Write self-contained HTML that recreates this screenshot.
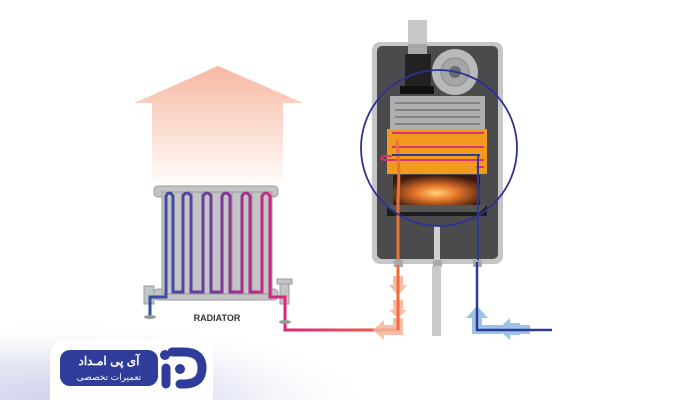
<!DOCTYPE html>
<html><head><meta charset="utf-8"><style>
html,body{margin:0;padding:0;background:#fff;}
svg{display:block;}
</style></head><body>
<svg width="700" height="400" viewBox="0 0 700 400" xmlns="http://www.w3.org/2000/svg">
<defs>
<linearGradient id="heat" x1="0" y1="0" x2="0" y2="1">
<stop offset="0" stop-color="#f7b7a3"/><stop offset="0.5" stop-color="#fbdcd0"/><stop offset="1" stop-color="#ffffff"/>
</linearGradient>
<linearGradient id="pipe" gradientUnits="userSpaceOnUse" x1="150" y1="0" x2="285" y2="0">
<stop offset="0" stop-color="#2d4fa6"/><stop offset="0.5" stop-color="#7a3a9a"/><stop offset="1" stop-color="#e0257a"/>
</linearGradient>
<linearGradient id="pipe2" gradientUnits="userSpaceOnUse" x1="285" y1="0" x2="400" y2="0">
<stop offset="0" stop-color="#e0257a"/><stop offset="1" stop-color="#f06a3a"/>
</linearGradient>
<radialGradient id="bot" gradientUnits="userSpaceOnUse" cx="60" cy="400" r="320" gradientTransform="translate(60 400) scale(1 0.25) translate(-60 -400)">
<stop offset="0" stop-color="#cfd3ec"/><stop offset="0.5" stop-color="#e6e8f5"/><stop offset="1" stop-color="#ffffff" stop-opacity="0"/>
</radialGradient>
<radialGradient id="fire" cx="0.5" cy="0.6" r="0.6">
<stop offset="0" stop-color="#ffd27a"/><stop offset="0.4" stop-color="#e8762a"/><stop offset="1" stop-color="#3a1a10"/>
</radialGradient>
</defs>
<rect width="700" height="400" fill="#fff"/>
<rect x="0" y="300" width="700" height="100" fill="url(#bot)"/>
<polygon points="218,66 303,103 283,103 283,188 152,188 152,103 134,103" fill="url(#heat)"/>
<g fill="#c3c4c6" stroke="#9a9b9d" stroke-width="1">
<rect x="154" y="186" width="124" height="11" rx="4"/>
<rect x="154" y="289" width="124" height="11" rx="4"/>
<rect x="162" y="192" width="10" height="102"/><rect x="172" y="192" width="10" height="102"/>
<rect x="182" y="192" width="10" height="102"/><rect x="192" y="192" width="10" height="102"/>
<rect x="202" y="192" width="10" height="102"/><rect x="212" y="192" width="10" height="102"/>
<rect x="222" y="192" width="10" height="102"/><rect x="232" y="192" width="10" height="102"/>
<rect x="242" y="192" width="10" height="102"/><rect x="252" y="192" width="10" height="102"/>
<rect x="262" y="192" width="10" height="102"/>
<rect x="144" y="286" width="10" height="18"/><rect x="280" y="284" width="9" height="20"/>
<rect x="277" y="279" width="15" height="5"/>
</g>
<path d="M150 315 V297 H166 V196 Q169 190 173 196 V292 H183 V196 Q187 190 191 196 V292 H203 V196 Q207 190 211 196 V292 H222 V196 Q226 190 230 196 V292 H242 V196 Q246 190 250 196 V292 H262 V196 Q266 190 270 196 V297 H285 V330 H398 V265" fill="none" stroke="url(#pipe)" stroke-width="3"/>
<path d="M285 312 V330 H398 V265" fill="none" stroke="url(#pipe2)" stroke-width="3"/>
<ellipse cx="150" cy="317" rx="6" ry="2" fill="#999"/><ellipse cx="285" cy="322" rx="6" ry="2" fill="#999"/>
<text x="217" y="321" font-family="Liberation Sans, sans-serif" font-size="9" font-weight="bold" fill="#333" text-anchor="middle">RADIATOR</text>
<rect x="408" y="20" width="19" height="24" fill="#c8c8c8"/>
<rect x="372" y="42" width="131" height="222" rx="8" fill="#c5c6c8"/>
<rect x="377" y="46" width="121" height="213" rx="5" fill="#4b4b4d"/>
<circle cx="455" cy="72" r="23" fill="#b7b8ba"/><circle cx="455" cy="72" r="14" fill="#a5a6a8" stroke="#8a8b8d"/><circle cx="455" cy="72" r="6" fill="#6a6b6d"/>
<rect x="408" y="44" width="19" height="10" fill="#a6a7a9"/>
<rect x="405" y="54" width="26" height="34" fill="#222"/>
<rect x="400" y="86" width="34" height="8" fill="#111"/>
<rect x="390" y="96" width="95" height="33" fill="#aeafb1"/>
<g stroke="#808183" stroke-width="2"><line x1="395" y1="103" x2="480" y2="103"/><line x1="395" y1="110" x2="480" y2="110"/><line x1="395" y1="117" x2="480" y2="117"/><line x1="395" y1="124" x2="480" y2="124"/></g>
<rect x="387" y="129" width="100" height="8" fill="#e8a020"/>
<rect x="387" y="130" width="100" height="44" fill="#f29a1e"/>
<g stroke="#d6337a" stroke-width="2" fill="none"><line x1="392" y1="133" x2="484" y2="133"/><line x1="392" y1="147" x2="484" y2="147"/><path d="M484 160 H384 Q378 158 384 156 H392"/><line x1="476" y1="167" x2="484" y2="167"/></g>
<rect x="393" y="175" width="87" height="30" fill="url(#fire)"/>
<rect x="387" y="205" width="100" height="11" fill="#1e1e1e"/>
<path d="M387 205 H487 L480 212 H394 Z" fill="#555"/>
<rect x="434" y="226" width="6" height="34" fill="#d0d0d0"/>
<path d="M397 140 Q400 170 398 200 V262" stroke="#e8743a" stroke-width="3" fill="none"/>
<path d="M392 155 H480 Q478 155 478 160 V262" stroke="#2d3a96" stroke-width="2" fill="none"/>
<rect x="394" y="260" width="9" height="7" fill="#aaa"/><rect x="433" y="260" width="9" height="7" fill="#aaa"/><rect x="473" y="260" width="9" height="7" fill="#aaa"/>
<circle cx="439" cy="148" r="78" fill="none" stroke="#2e3192" stroke-width="1.8"/>
<rect x="432" y="266" width="9" height="70" fill="#c9c9c9"/>
<g fill="#f6b39c" opacity="0.85">
<polygon points="393,276 403,276 403,285 407,285 398,296 389,285 393,285"/>
<polygon points="393,300 403,300 403,310 407,310 398,318 389,310 393,310"/>
<rect x="393" y="318" width="10" height="17"/>
<polygon points="395,325 395,335 384,335 384,340 373,330 384,320 384,325"/>
</g>
<line x1="398" y1="265" x2="398" y2="330" stroke="#f06a3a" stroke-width="3"/>
<g fill="#9cc2ea">
<rect x="472" y="318" width="10" height="16"/>
<polygon points="466,318 477,306 488,318"/>
<rect x="480" y="325" width="22" height="9"/>
<polygon points="520,323 510,323 510,318 498,329 510,340 510,335 520,335"/>
<rect x="520" y="325" width="10" height="9"/>
</g>
<path d="M477 262 V330 H552" fill="none" stroke="#2d3a96" stroke-width="2.5"/>
<path d="M50 400 V358 Q50 340 68 340 H196 Q213 340 213 358 V400 Z" fill="#fff"/>
<rect x="60" y="350" width="98" height="36" rx="10" fill="#2f3c9a"/>
<text x="109" y="365" font-family="Liberation Sans, 'Noto Sans CJK SC', sans-serif" font-size="12" font-weight="bold" fill="#fff" text-anchor="middle">آی پی امـداد</text>
<text x="109" y="380" font-family="Liberation Sans, 'Noto Sans CJK SC', sans-serif" font-size="9" fill="#fff" text-anchor="middle">تعمیرات تخصصی</text>
<g fill="none" stroke="#2f3c9a" stroke-width="9" stroke-linecap="round">
<path d="M172 352 H184 Q202 352 202 368 Q202 384 184 384 H180"/>
<line x1="166" y1="368" x2="166" y2="384"/>
</g>
<circle cx="165" cy="355" r="5" fill="#2f3c9a"/>
<circle cx="180" cy="369" r="5" fill="#2f3c9a"/>
</svg>
</body></html>
